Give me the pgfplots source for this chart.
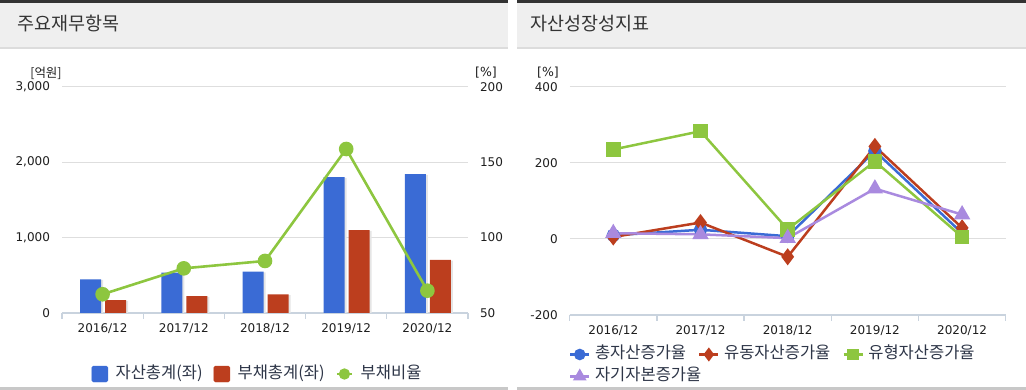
\documentclass[border=0pt]{standalone}
\usepackage{pgfplots}
\pgfplotsset{compat=1.18}
\usepackage{fontspec}
\setmainfont{DejaVu Sans}
\newfontfamily\kr{Noto Sans CJK KR}
\definecolor{cblue}{HTML}{3A6BD5}
\definecolor{cred}{HTML}{BC3E1E}
\definecolor{cgreen}{HTML}{8DC63F}
\definecolor{cpurple}{HTML}{A98ADF}
\definecolor{hdrdark}{HTML}{333333}
\definecolor{hdrgray}{HTML}{EFEFEF}
\definecolor{hdrline}{HTML}{DCDCDC}
\definecolor{botline}{HTML}{C8C8C8}
\definecolor{titlec}{HTML}{333333}
\definecolor{tickc}{HTML}{1E1E1E}
\definecolor{legc}{HTML}{2E3648}
\definecolor{axisc}{HTML}{C9D3DE}
\definecolor{gridc}{HTML}{DEDEDE}
\pgfplotsset{
  basestyle/.style={
    scale only axis,
    xmin=-0.5, xmax=4.5,
    tick align=outside,
    major tick length=6pt, minor tick length=6pt,
    ticklabel style={font=\fontsize{12}{14}\selectfont, text=tickc},
    /pgf/number format/assume math mode=true,
    /pgf/number format/1000 sep={,},
    scaled y ticks=false,
    clip=false,
  },
  xstyle/.style={
    axis x line*=bottom,
    axis y line*=left,
    x axis line style={draw=axisc, line width=1.3pt},
    y axis line style={draw=none},
    xtick={0,...,4},
    xticklabels={2016/12,2017/12,2018/12,2019/12,2020/12},
    xticklabel style={yshift=-1pt},
    major x tick style={draw=none},
    minor xtick={-0.5,0.5,...,4.5},
    minor x tick style={draw=axisc, line width=1.3pt},
    ytick style={draw=none},
    ymajorgrids,
    grid style={draw=gridc, line width=1pt},
    yticklabel style={xshift=-2.5pt},
  },
  legimg/.style={legend image code/.code={\draw[mark repeat=2,mark phase=2,##1] plot coordinates {(0pt,0pt) (9.5pt,0pt) (19pt,0pt)};}},
  legbase/.style={draw=none, fill=none, inner sep=0pt,
    font=\kr\fontsize{16.5}{18}\selectfont, text=legc,
    nodes={inner xsep=3pt, inner ysep=0pt, text height=12pt, text depth=4pt}},
}
\begin{document}
\begin{tikzpicture}[x=1pt,y=1pt]
\path[use as bounding box] (0,0) rectangle (1026,390);
% panel decorations
\fill[hdrdark] (0,387.3) rectangle (508,390);
\fill[hdrdark] (516.7,387.3) rectangle (1026,390);
\fill[hdrgray] (0,343) rectangle (508,387.3);
\fill[hdrgray] (516.7,343) rectangle (1026,387.3);
\fill[hdrline] (0,341) rectangle (508,343);
\fill[hdrline] (516.7,341) rectangle (1026,343);
\fill[botline] (0,0) rectangle (508,2.5);
\fill[botline] (516.7,0) rectangle (1026,2.5);
\node[anchor=west, text=titlec, font=\kr\fontsize{18.5}{20}\selectfont, inner sep=0pt] at (17,366) {주요재무항목};
\node[anchor=west, text=titlec, font=\kr\fontsize{18.5}{20}\selectfont, inner sep=0pt] at (530,366) {자산성장성지표};
\node[font=\kr\fontsize{12.5}{14}\selectfont, text=tickc, inner sep=0pt] at (46,317) {[억원]};
\node[font=\fontsize{12.5}{14}\selectfont, text=tickc, inner sep=0pt] at (486,317) {[\%]};
\node[font=\fontsize{12.5}{14}\selectfont, text=tickc, inner sep=0pt] at (548,317) {[\%]};

% ---------- left chart: bars ----------
\begin{axis}[basestyle, xstyle,
  at={(62pt,77pt)}, anchor=south west,
  width=406pt, height=226.3pt,
  ymin=0, ymax=3000, ytick={0,1000,2000,3000},
]
\addplot[ybar, bar width=21pt, bar shift=-10pt, fill=black!10, draw=none] coordinates {(0,440) (1,525) (2,538) (3,1790) (4,1830)};
\addplot[ybar, bar width=21pt, bar shift=15pt, fill=black!10, draw=none] coordinates {(0,162) (1,215) (2,238) (3,1090) (4,693)};
\addplot[ybar, bar width=21pt, bar shift=-12pt, fill=cblue, draw=none] coordinates {(0,447) (1,535) (2,548) (3,1800) (4,1840)};
\addplot[ybar, bar width=21pt, bar shift=13pt, fill=cred, draw=none] coordinates {(0,172) (1,225) (2,248) (3,1100) (4,703)};
\end{axis}

% ---------- left chart: ratio line ----------
\begin{axis}[basestyle,
  at={(62pt,77pt)}, anchor=south west,
  width=406pt, height=226.3pt,
  hide x axis,
  axis y line*=right,
  y axis line style={draw=none},
  ytick style={draw=none},
  yticklabel style={xshift=2.5pt},
  ymin=50, ymax=200, ytick={50,100,150,200},
  legend style={legbase, at={(0.483,-0.2696)}, anchor=center,
    /tikz/every odd column/.append style={column sep=4.5pt},
    /tikz/every even column/.append style={column sep=8pt}},
  legend columns=3,
]
\addlegendimage{legend image code/.code={\fill[cblue, rounded corners=1.5pt] (0pt,-8pt) rectangle (16pt,8pt);}}
\addlegendentry{자산총계(좌)}
\addlegendimage{legend image code/.code={\fill[cred, rounded corners=1.5pt] (0pt,-8pt) rectangle (16pt,8pt);}}
\addlegendentry{부채총계(좌)}
\addplot[cgreen, line width=2.6pt, mark=*, mark size=6pt,
  legend image code/.code={\draw[cgreen, line width=2.6pt] (0pt,0pt) -- (15pt,0pt); \fill[cgreen] (7.5pt,0pt) circle (4.3pt);}]
  coordinates {(0,62.4) (1,79.6) (2,84.5) (3,158.7) (4,64.8)};
\addlegendentry{부채비율}
\end{axis}

% ---------- right chart ----------
\begin{axis}[basestyle, xstyle,
  at={(569.7pt,75pt)}, anchor=south west,
  width=436pt, height=228.3pt,
  ymin=-200, ymax=400, ytick={-200,0,200,400},
  legend style={legbase, at={(-0.002,-0.2212)}, anchor=west, row sep=6pt,
    /tikz/every odd column/.append style={column sep=1.5pt},
    /tikz/every even column/.append style={column sep=9pt}},
  legend columns=3,
  legend cell align=left,
]
\addplot[cblue, line width=2.5pt, mark=*, mark size=5.5pt, legimg, legend image post style={mark size=4.5pt}]
  coordinates {(0,9.5) (1,24) (2,7) (3,231) (4,15)};
\addlegendentry{총자산증가율}
\addplot[cred, line width=2.5pt, mark=diamond*, mark size=6.5pt, legimg, legend image post style={mark size=5pt}]
  coordinates {(0,5) (1,43) (2,-47) (3,243) (4,29)};
\addlegendentry{유동자산증가율}
\addplot[cgreen, line width=2.5pt, mark=square*, mark size=6pt, legimg, legend image post style={mark size=4.5pt}]
  coordinates {(0,235) (1,283) (2,25) (3,204) (4,5)};
\addlegendentry{유형자산증가율}
\addplot[cpurple, line width=2.5pt, mark=triangle*, mark size=7pt, legimg, legend image post style={mark size=5.5pt}]
  coordinates {(0,15) (1,12) (2,2) (3,132) (4,64)};
\addlegendentry{\makebox[0pt][l]{자기자본증가율}}
\end{axis}
\end{tikzpicture}
\end{document}
